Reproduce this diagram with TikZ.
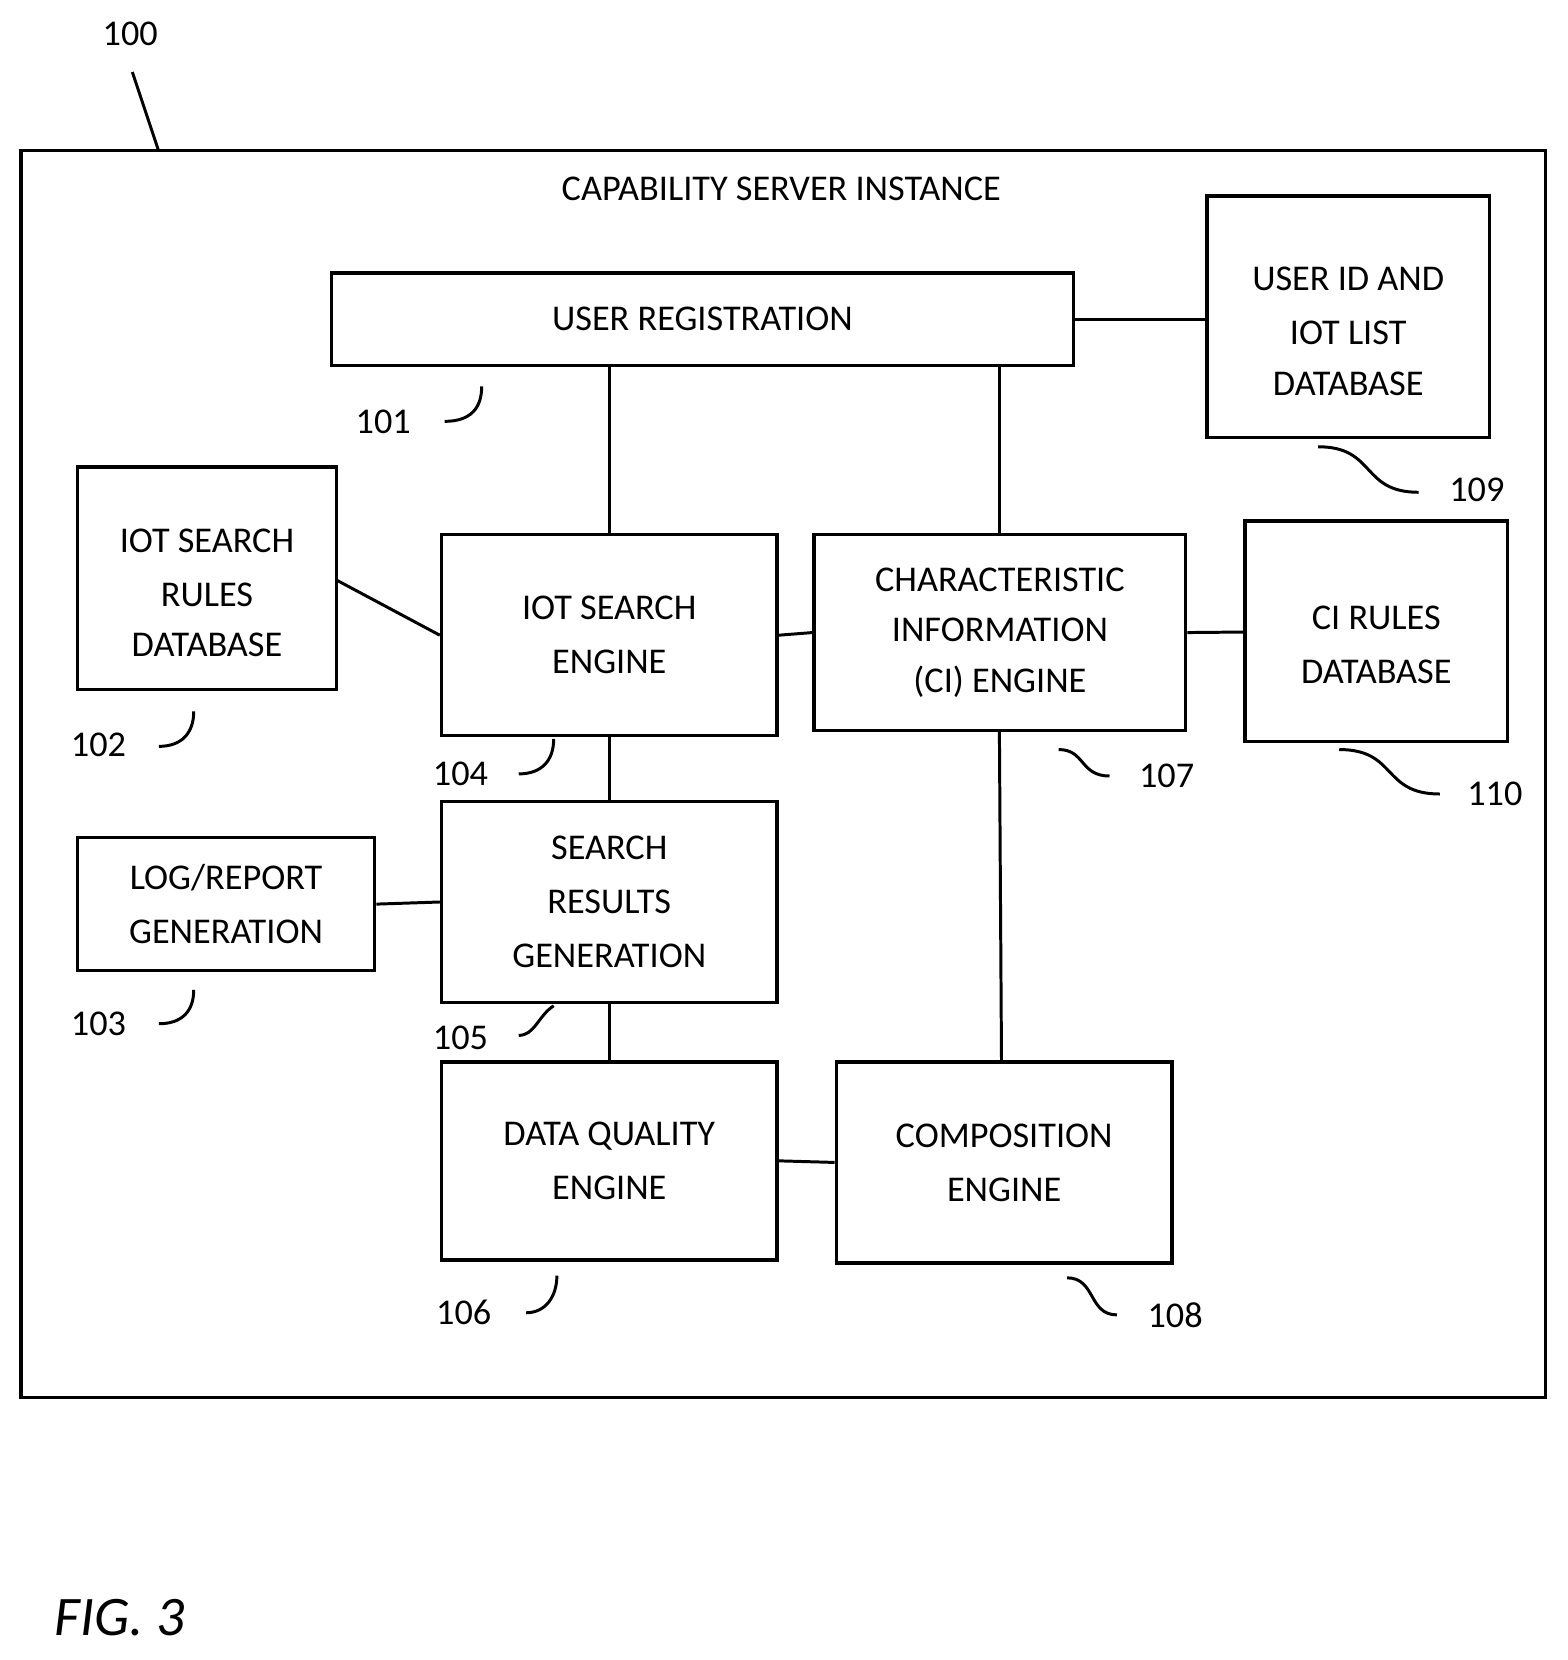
\documentclass[tikz,border=0pt]{standalone}
\usepackage{fontspec}
\setmainfont{Carlito}
\usetikzlibrary{shapes.geometric}
\begin{document}
\begin{tikzpicture}[x=0.02cm,y=-0.02cm,line width=1.6pt,
  box/.style={draw,line width=1.8pt},
  txt/.style={font=\fontsize{19.5}{25}\selectfont,align=center,inner sep=0},
  lbl/.style={font=\fontsize{19.5}{25}\selectfont,inner sep=0},
  db/.style={draw,line width=1.8pt,cylinder,shape border rotate=90,aspect=0.22,minimum width=#1,inner sep=0}]
\useasboundingbox (0,0) rectangle (1481,1568);
\draw[box] (20,142) rectangle (1460,1320);
\node[lbl] (n100) at (123,32) {100};
\coordinate (c100a) at (125,68); \coordinate (c100b) at (150,143);
\draw (c100a) -- (c100b);
\node[txt] (title) at (738,178) {CAPABILITY SERVER INSTANCE};
% boxes
\node[box,txt,minimum width=701*0.02cm,minimum height=87*0.02cm] (ur) at (663.5,301.5) {USER REGISTRATION};
\node[box,txt,minimum width=317*0.02cm,minimum height=190*0.02cm] (ise) at (575.5,600) {IOT SEARCH\\[4pt]ENGINE};
\node[box,txt,minimum width=351*0.02cm,minimum height=185*0.02cm] (ci) at (944.5,597.5) {CHARACTERISTIC\\[2pt]INFORMATION\\[2pt](CI) ENGINE};
\node[box,txt,minimum width=281*0.02cm,minimum height=126*0.02cm] (log) at (213.5,854) {LOG/REPORT\\[4pt]GENERATION};
\node[box,txt,minimum width=317*0.02cm,minimum height=190*0.02cm] (sr) at (575.5,852) {SEARCH\\[4pt]RESULTS\\[4pt]GENERATION};
\node[box,txt,minimum width=317*0.02cm,minimum height=187*0.02cm] (dq) at (575.5,1096.5) {DATA QUALITY\\[4pt]ENGINE};
\node[box,txt,minimum width=317*0.02cm,minimum height=190*0.02cm] (ce) at (948.5,1098) {COMPOSITION\\[4pt]ENGINE};
% databases
\node[db=267*0.02cm,minimum height=228*0.02cm] (db109) at (1273.5,300) {};
\node[txt] (t109) at (1273.5,313) {USER ID AND\\[4pt]IOT LIST\\[2pt]DATABASE};
\node[db=245*0.02cm,minimum height=210*0.02cm] (db102) at (195.5,547) {};
\node[txt] (t102) at (195.5,560) {IOT SEARCH\\[4pt]RULES\\[2pt]DATABASE};
\node[db=248*0.02cm,minimum height=208*0.02cm] (db110) at (1300,597) {};
\node[txt] (t110) at (1300,609) {CI RULES\\[4pt]DATABASE};
% connectors
\draw (ur.east) -- (db109.west |- ur.east);
\draw (ur.south -| ise.north) -- (ise.north);
\draw (ur.south -| 944,0) -- (944,505);
\draw (318,548) -- (ise.west);
\draw (ise.east) -- (ci.west);
\draw (ci.east) -- (db110.west);
\draw (ise.south) -- (sr.north);
\draw (log.east) -- (sr.west);
\draw (sr.south) -- (dq.north);
\draw (dq.east) -- (ce.west);
\draw (944,690) -- (946,1003);
% labels
\node[lbl] (n101) at (362,398) {101};
\draw (420,398) .. controls (445,398) and (455,385) .. (455,365);
\node[lbl] (n102) at (93,704) {102};
\draw (150,705) .. controls (172,705) and (183,692) .. (183,672);
\node[lbl] (n103) at (93,967) {103};
\draw (150,967) .. controls (172,967) and (183,955) .. (183,935);
\node[lbl] (n104) at (435,731) {104};
\draw (490,731) .. controls (512,731) and (523,718) .. (523,698);
\node[lbl] (n105) at (435,980) {105};
\draw (490,978) .. controls (505,978) and (508,960) .. (523,950);
\node[lbl] (n106) at (438,1240) {106};
\draw (497,1240) .. controls (515,1240) and (526,1225) .. (526,1205);
\node[lbl] (n107) at (1102,733) {107};
\draw (1000,708) .. controls (1025,708) and (1020,733) .. (1048,733);
\node[lbl] (n108) at (1110,1242) {108};
\draw (1008,1207) .. controls (1035,1207) and (1028,1242) .. (1055,1242);
\node[lbl] (n109) at (1395,463) {109};
\draw (1245,422) .. controls (1300,422) and (1285,465) .. (1340,465);
\node[lbl] (n110) at (1412,750) {110};
\draw (1265,708) .. controls (1320,708) and (1305,750) .. (1360,750);
\node[font=\fontsize{30}{36}\selectfont\itshape,inner sep=0] (fig) at (113,1528) {FIG. 3};
\end{tikzpicture}
\end{document}
